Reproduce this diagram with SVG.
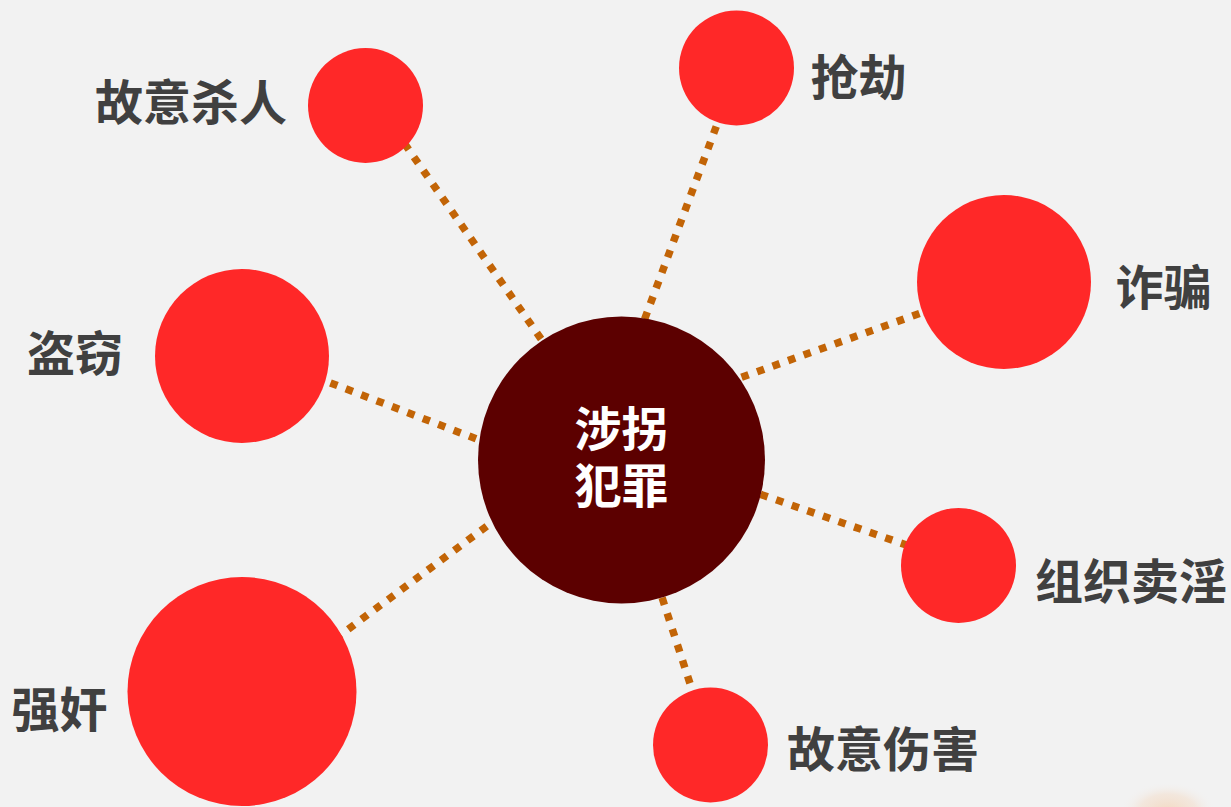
<svg xmlns="http://www.w3.org/2000/svg" width="1231" height="807" viewBox="0 0 1231 807">
<defs>
<radialGradient id="glow" cx="0.5" cy="0.5" r="0.5">
<stop offset="0" stop-color="#F3D6BC" stop-opacity="0.9"/>
<stop offset="0.6" stop-color="#F3DCC8" stop-opacity="0.5"/>
<stop offset="1" stop-color="#F2F2F2" stop-opacity="0"/>
</radialGradient>
</defs>
<style>
.bg{fill:#F2F2F2}
.conn{stroke:#C26406;stroke-width:7.5;stroke-dasharray:7.5 9;fill:none}
.sat{fill:#FF2828}
.hub{fill:#5C0000}
.lbl{font-family:"Noto Sans CJK SC","Noto Sans",sans-serif;font-weight:bold;font-size:48px;fill:#404040;text-anchor:middle;dominant-baseline:central}
.hubt{font-family:"Noto Sans CJK SC","Noto Sans",sans-serif;font-weight:bold;font-size:47px;fill:#FFFFFF;text-anchor:middle;dominant-baseline:central}
</style>
<rect class="bg" x="0" y="0" width="1231" height="807"/>
<ellipse cx="1168" cy="812" rx="48" ry="30" fill="url(#glow)"/>
<g id="connectors">
<line class="conn" x1="395" y1="130" x2="560" y2="366"/>
<line class="conn" x1="722" y1="111" x2="638" y2="337"/>
<line class="conn" x1="935" y1="308" x2="720" y2="385"/>
<line class="conn" x1="315" y1="377" x2="500" y2="448"/>
<line class="conn" x1="335" y1="639" x2="510" y2="509"/>
<line class="conn" x1="745" y1="489" x2="915" y2="548"/>
<line class="conn" x1="657" y1="582" x2="697" y2="705"/>
</g>
<g id="node-center">
<circle class="hub" cx="621.5" cy="460" r="143.5"/>
<text class="hubt"><tspan x="621.5" y="424.5">涉拐</tspan><tspan x="621.5" y="481.5">犯罪</tspan></text>
</g>
<g id="node-murder">
<circle class="sat" cx="365.5" cy="105.5" r="57.5"/>
<text class="lbl" x="191" y="98.5">故意杀人</text>
</g>
<g id="node-robbery">
<circle class="sat" cx="736.5" cy="68" r="57.5"/>
<text class="lbl" x="858.5" y="73.5">抢劫</text>
</g>
<g id="node-fraud">
<circle class="sat" cx="1004" cy="282" r="87"/>
<text class="lbl" x="1163.5" y="283.5">诈骗</text>
</g>
<g id="node-theft">
<circle class="sat" cx="242" cy="356" r="87"/>
<text class="lbl" x="75" y="350">盗窃</text>
</g>
<g id="node-rape">
<circle class="sat" cx="242" cy="691.5" r="114.5"/>
<text class="lbl" x="59.5" y="706">强奸</text>
</g>
<g id="node-prostitution">
<circle class="sat" cx="958.5" cy="565.5" r="57.5"/>
<text class="lbl" x="1131" y="577.5">组织卖淫</text>
</g>
<g id="node-injury">
<circle class="sat" cx="710.5" cy="745" r="57.5"/>
<text class="lbl" x="883" y="745.5">故意伤害</text>
</g>
</svg>
